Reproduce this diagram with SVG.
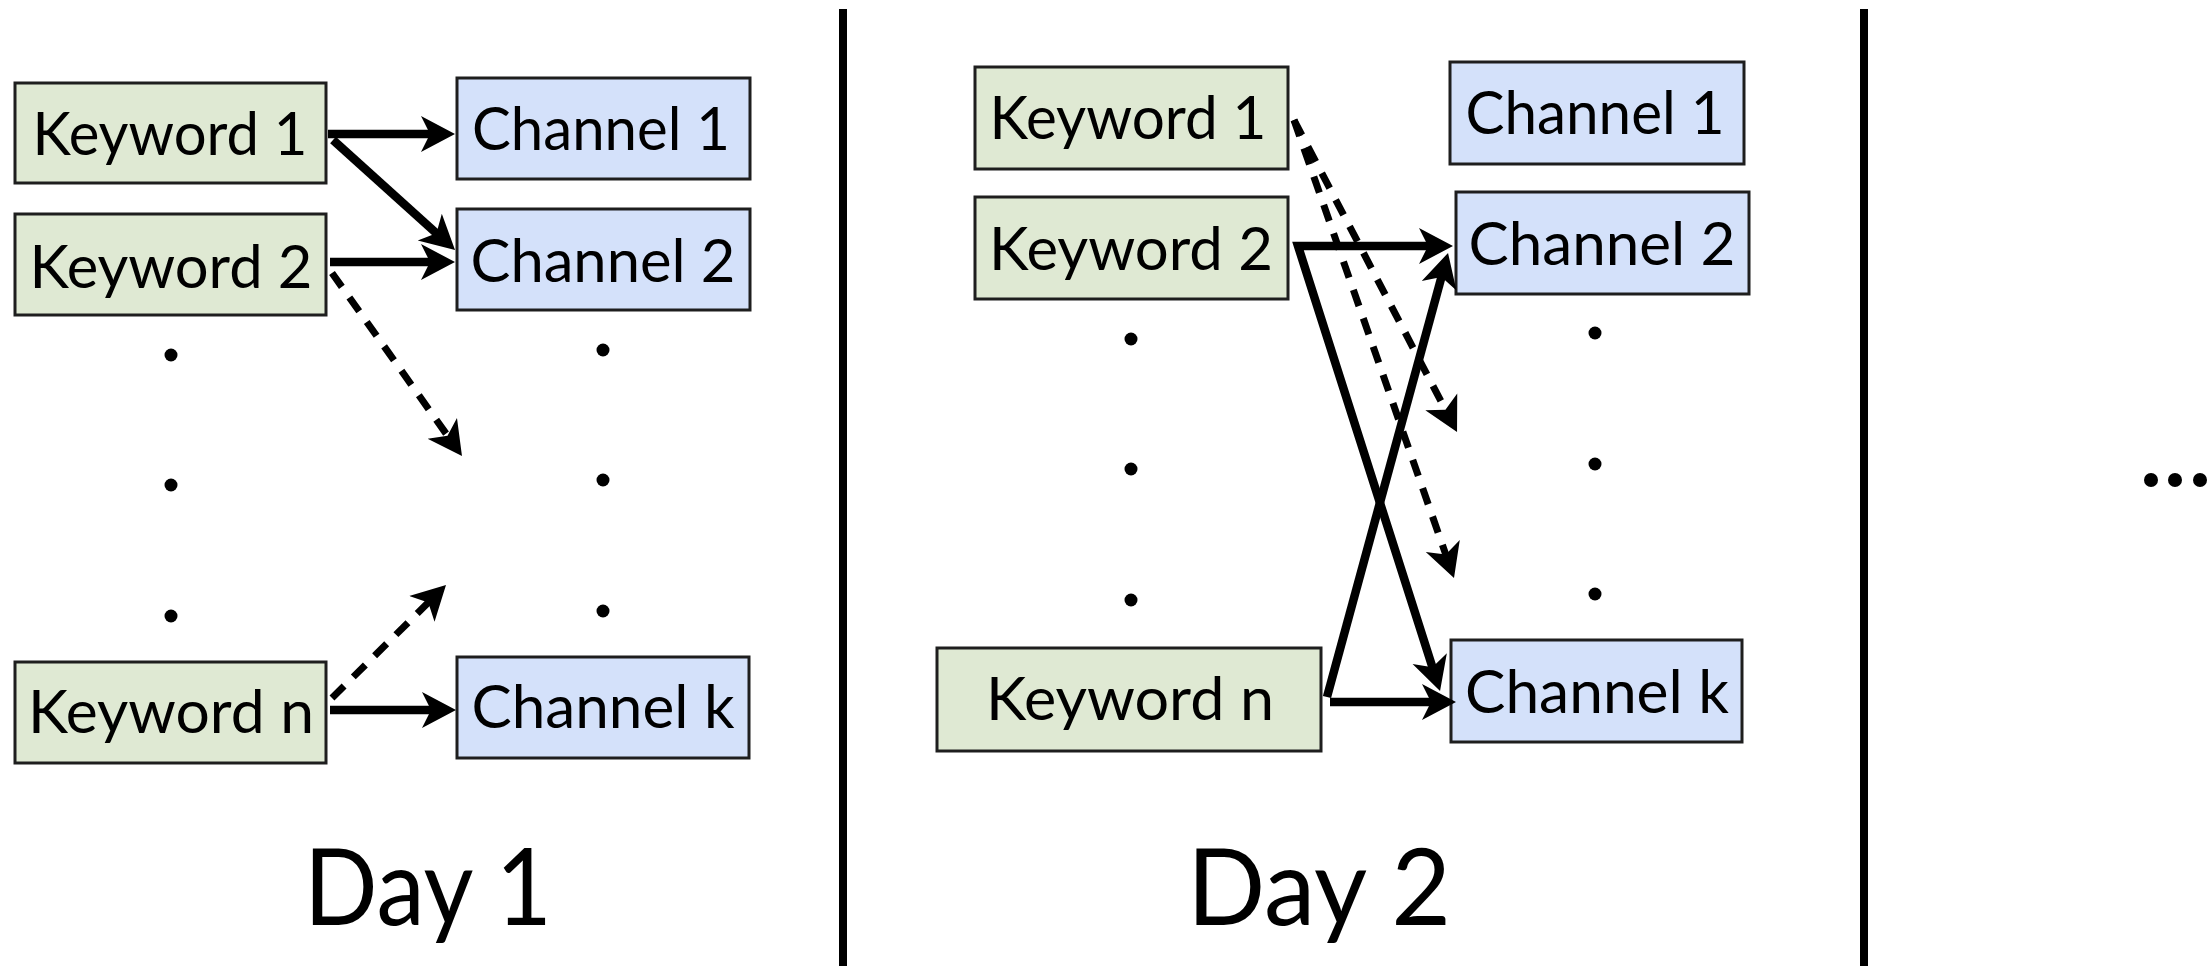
<svg xmlns="http://www.w3.org/2000/svg" width="2209" height="966" viewBox="0 0 2209 966">
  <style>
    .kw { fill: #dfe9d3; stroke: #1e1e1e; stroke-width: 3; }
    .ch { fill: #d4e1fa; stroke: #1e1e1e; stroke-width: 3; }
    .lbl { font-family: Lato, "Liberation Sans", sans-serif; font-size: 60px; fill: #000; text-anchor: middle; }
    .day { font-family: Lato, "Liberation Sans", sans-serif; font-size: 107px; fill: #000; text-anchor: middle; }
    .solid { fill: none; stroke: #000; stroke-width: 8.5; stroke-linejoin: miter; marker-end: url(#head); }
    .dash { fill: none; stroke: #000; stroke-width: 7; stroke-dasharray: 17 13; marker-end: url(#head); }
    .dot { fill: #000; }
    .sep { stroke: #000; stroke-width: 8; }
  </style>
  <defs>
    <marker id="head" markerUnits="userSpaceOnUse" viewBox="0 -20 40 40" markerWidth="40" markerHeight="40" refX="24" refY="0" orient="auto-start-reverse">
      <path d="M0,-18 L34,0 L0,18 L9,0 Z" fill="#000"/>
    </marker>
  </defs>

  <rect width="2209" height="966" fill="#fff"/>

  <!-- panel separators -->
  <g id="separators">
    <line class="sep" x1="843" y1="9" x2="843" y2="966"/>
    <line class="sep" x1="1864" y1="9" x2="1864" y2="966"/>
  </g>

  <!-- Day 1 -->
  <g id="d1-keyword-1"><rect class="kw" x="15" y="83" width="311" height="100"/><text class="lbl" x="170" y="155" textLength="275" lengthAdjust="spacingAndGlyphs">Keyword 1</text></g>
  <g id="d1-keyword-2"><rect class="kw" x="15" y="214" width="311" height="101"/><text class="lbl" x="171" y="288" textLength="283" lengthAdjust="spacingAndGlyphs">Keyword 2</text></g>
  <g id="d1-keyword-n"><rect class="kw" x="15" y="662" width="311" height="101"/><text class="lbl" x="171" y="733" textLength="286" lengthAdjust="spacingAndGlyphs">Keyword n</text></g>
  <g id="d1-channel-1"><rect class="ch" x="457" y="78" width="293" height="101"/><text class="lbl" x="601" y="150" textLength="258" lengthAdjust="spacingAndGlyphs">Channel 1</text></g>
  <g id="d1-channel-2"><rect class="ch" x="457" y="209" width="293" height="101"/><text class="lbl" x="603" y="282" textLength="265" lengthAdjust="spacingAndGlyphs">Channel 2</text></g>
  <g id="d1-channel-k"><rect class="ch" x="457" y="657" width="292" height="101"/><text class="lbl" x="603" y="728" textLength="263" lengthAdjust="spacingAndGlyphs">Channel k</text></g>
  <g id="d1-dots">
    <ellipse class="dot" cx="171" cy="355" rx="6.5" ry="6.5"/>
    <ellipse class="dot" cx="171" cy="485" rx="6.5" ry="6.5"/>
    <ellipse class="dot" cx="171" cy="616" rx="6.5" ry="6.5"/>
    <ellipse class="dot" cx="603" cy="350" rx="6.5" ry="6.5"/>
    <ellipse class="dot" cx="603" cy="480" rx="6.5" ry="6.5"/>
    <ellipse class="dot" cx="603" cy="611" rx="6.5" ry="6.5"/>
  </g>
  <g id="d1-title"><text class="day" x="428" y="925" textLength="248" lengthAdjust="spacingAndGlyphs">Day 1</text></g>

  <!-- Day 2 -->
  <g id="d2-keyword-1"><rect class="kw" x="975" y="67" width="313" height="102"/><text class="lbl" x="1128" y="139" textLength="277" lengthAdjust="spacingAndGlyphs">Keyword 1</text></g>
  <g id="d2-keyword-2"><rect class="kw" x="975" y="197" width="313" height="102"/><text class="lbl" x="1131" y="270" textLength="284" lengthAdjust="spacingAndGlyphs">Keyword 2</text></g>
  <g id="d2-keyword-n"><rect class="kw" x="937" y="648" width="384" height="103"/><text class="lbl" x="1130" y="720" textLength="288" lengthAdjust="spacingAndGlyphs">Keyword n</text></g>
  <g id="d2-channel-1"><rect class="ch" x="1450" y="62" width="294" height="102"/><text class="lbl" x="1595" y="134" textLength="259" lengthAdjust="spacingAndGlyphs">Channel 1</text></g>
  <g id="d2-channel-2"><rect class="ch" x="1456" y="192" width="293" height="102"/><text class="lbl" x="1602" y="265" textLength="267" lengthAdjust="spacingAndGlyphs">Channel 2</text></g>
  <g id="d2-channel-k"><rect class="ch" x="1451" y="640" width="291" height="102"/><text class="lbl" x="1597" y="713" textLength="264" lengthAdjust="spacingAndGlyphs">Channel k</text></g>
  <g id="d2-dots">
    <ellipse class="dot" cx="1131" cy="339" rx="6.5" ry="6.5"/>
    <ellipse class="dot" cx="1131" cy="469" rx="6.5" ry="6.5"/>
    <ellipse class="dot" cx="1131" cy="600" rx="6.5" ry="6.5"/>
    <ellipse class="dot" cx="1595" cy="333" rx="6.5" ry="6.5"/>
    <ellipse class="dot" cx="1595" cy="464" rx="6.5" ry="6.5"/>
    <ellipse class="dot" cx="1595" cy="594" rx="6.5" ry="6.5"/>
  </g>
  <g id="d2-title"><text class="day" x="1319" y="925" textLength="264" lengthAdjust="spacingAndGlyphs">Day 2</text></g>

  <!-- later days -->
  <g id="ellipsis">
    <circle class="dot" cx="2151" cy="480" r="7"/>
    <circle class="dot" cx="2175" cy="480" r="7"/>
    <circle class="dot" cx="2200" cy="480" r="7"/>
  </g>

  <!-- connectors -->
  <g id="connectors">
    <!-- Day 1 -->
    <path class="solid" d="M328,134 L445,134"/>
    <path class="solid" d="M333,140 L447.6,243.3"/>
    <path class="solid" d="M330,262 L445,262"/>
    <path class="dash" d="M332,273 L456.2,447.9"/>
    <path class="dash" d="M332,698 L438.9,592"/>
    <path class="solid" d="M330,710 L446,710"/>
    <!-- Day 2 -->
    <path class="solid" d="M1443,246 L1298,246 L1437,681.5" marker-start="url(#head)"/>
    <path class="solid" d="M1327,697 L1445.4,262.6"/>
    <path class="solid" d="M1330,702 L1446,702"/>
    <path class="dash" d="M1294,120 L1452.4,423.1"/>
    <path class="dash" d="M1294,120 L1450.7,568.6"/>
  </g>
</svg>
